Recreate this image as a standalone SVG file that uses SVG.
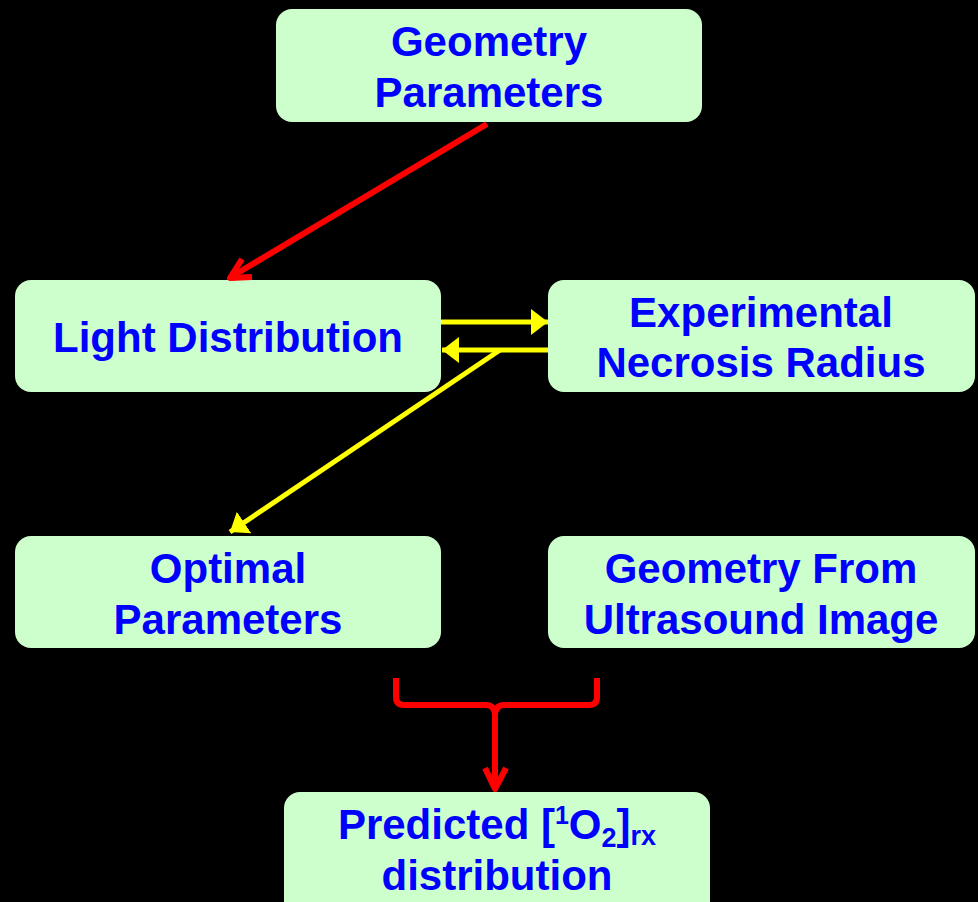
<svg xmlns="http://www.w3.org/2000/svg" width="978" height="902" viewBox="0 0 978 902">
<style>
.box{fill:#CCFFCC;}
.t{font-family:"Liberation Sans",Arial,sans-serif;font-weight:bold;font-size:42px;fill:#0000FF;text-anchor:middle;}
.red{stroke:#FF0000;stroke-width:6;fill:none;stroke-linecap:butt;stroke-linejoin:round;}
.yel{stroke:#FFFF00;stroke-width:5;fill:none;}
</style>
<defs>
<marker id="yh" markerUnits="userSpaceOnUse" markerWidth="18" markerHeight="28" refX="17" refY="14" orient="auto">
<path d="M0,1 L17,14 L0,27 Z" fill="#FFFF00"/>
</marker>
</defs>
<rect width="978" height="902" fill="#000000"/>
<g id="n-geometry-parameters">
<rect class="box" x="276" y="9" width="426" height="113" rx="16"/>
<text class="t" x="489" y="56">Geometry</text>
<text class="t" x="489" y="107">Parameters</text>
</g>
<g id="n-light-distribution">
<rect class="box" x="15" y="280" width="426" height="112" rx="16"/>
<text class="t" x="228" y="352">Light Distribution</text>
</g>
<g id="n-experimental">
<rect class="box" x="548" y="280" width="427" height="112" rx="16"/>
<text class="t" x="761" y="327">Experimental</text>
<text class="t" x="761" y="377">Necrosis Radius</text>
</g>
<g id="n-optimal">
<rect class="box" x="15" y="536" width="426" height="112" rx="16"/>
<text class="t" x="228" y="583">Optimal</text>
<text class="t" x="228" y="634">Parameters</text>
</g>
<g id="n-ultrasound">
<rect class="box" x="548" y="536" width="427" height="112" rx="16"/>
<text class="t" x="761" y="583">Geometry From</text>
<text class="t" x="761" y="634">Ultrasound Image</text>
</g>
<g id="n-predicted">
<rect class="box" x="284" y="792" width="426" height="130" rx="16"/>
<text class="t" x="497" y="839">Predicted [<tspan font-size="25" dy="-15">1</tspan><tspan dy="15">O</tspan><tspan font-size="27" dy="8">2</tspan><tspan dy="-8">]</tspan><tspan font-size="27" dy="6">rx</tspan></text>
<text class="t" x="497" y="890">distribution</text>
</g>
<g id="connectors">
<path class="red" d="M487,124 L231,277"/>
<path class="red" d="M242,259 L230,278 L252,277"/>
<line class="yel" x1="441" y1="322" x2="548" y2="322" marker-end="url(#yh)"/>
<line class="yel" x1="548" y1="350" x2="442" y2="350" marker-end="url(#yh)"/>
<line class="yel" x1="500" y1="350" x2="230" y2="532" marker-end="url(#yh)"/>
<path class="red" d="M396,678 L396,697 Q396,705 404,705 L486,705 Q495,705 495,716 Q495,705 504,705 L589,705 Q597,705 597,697 L597,678"/>
<path class="red" d="M495,716 L495,789"/>
<path class="red" d="M485,768 L495,789 L506,768"/>
</g>
</svg>
